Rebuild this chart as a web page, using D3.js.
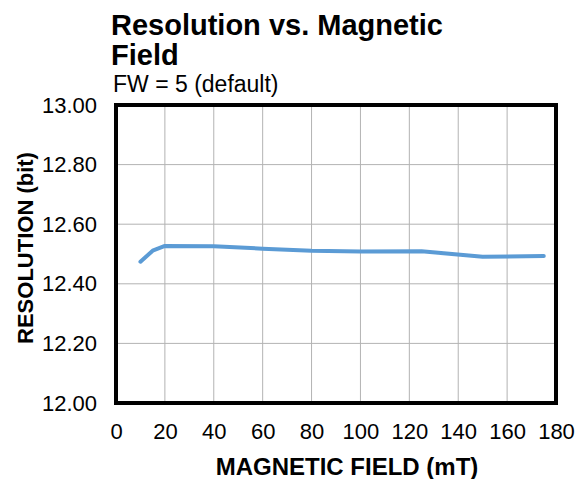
<!DOCTYPE html>
<html><head><meta charset="utf-8">
<script src="https://cdn.jsdelivr.net/npm/d3@7"></script>
<style>body{margin:0;background:#fff}svg{display:block}text{font-family:"Liberation Sans",Arial,sans-serif;fill:#000}</style>
</head><body>
<svg id="c" width="577" height="479"></svg>
<script>
const fieldMT = [10, 15, 20, 40, 60, 80, 100, 125, 150, 175];
const resolutionBit = [12.474, 12.511, 12.527, 12.526, 12.518, 12.511, 12.508, 12.509, 12.491, 12.493];
const xTicks = [0, 20, 40, 60, 80, 100, 120, 140, 160, 180];
const yTicks = [12.0, 12.2, 12.4, 12.6, 12.8, 13.0];
const titleLines = ["Resolution vs. Magnetic", "Field"];
const subtitle = "FW = 5 (default)";
const xTitle = "MAGNETIC FIELD (mT)";
const yTitle = "RESOLUTION (bit)";

const svg = d3.select("#c");
const L = 116, R = 556, T = 105, B = 403;
const x = d3.scaleLinear().domain([0, 180]).range([L, R]);
const y = d3.scaleLinear().domain([12, 13]).range([B, T]);

// grid
svg.append("g").selectAll("line").data(xTicks.slice(1, -1)).join("line")
  .attr("x1", d => x(d)).attr("x2", d => x(d)).attr("y1", T).attr("y2", B)
  .attr("stroke", "#b3b3b3").attr("stroke-width", 1);
svg.append("g").selectAll("line").data(yTicks.slice(1, -1)).join("line")
  .attr("y1", d => y(d)).attr("y2", d => y(d)).attr("x1", L).attr("x2", R)
  .attr("stroke", "#b3b3b3").attr("stroke-width", 1);

const xAxis = svg.append("g").attr("transform", `translate(0,${B})`)
  .call(d3.axisBottom(x).tickValues(xTicks).tickSize(0).tickPadding(20.5).tickFormat(d3.format("d")));
xAxis.select(".domain").remove();
xAxis.selectAll("text").attr("font-size", 22).style("font-family", "Liberation Sans, Arial, sans-serif").attr("fill", "#000");

const yAxis = svg.append("g").attr("transform", `translate(${L},0)`)
  .call(d3.axisLeft(y).tickValues(yTicks).tickSize(0).tickPadding(19).tickFormat(d3.format(".2f")));
yAxis.select(".domain").remove();
yAxis.selectAll("text").attr("font-size", 22).style("font-family", "Liberation Sans, Arial, sans-serif").attr("fill", "#000");

const line = d3.line().x((d, i) => x(fieldMT[i])).y(d => y(d));
svg.append("path").datum(resolutionBit).attr("d", line)
  .attr("fill", "none").attr("stroke", "#5b9bd5").attr("stroke-width", 4)
  .attr("stroke-linejoin", "round").attr("stroke-linecap", "round");

svg.append("rect").attr("x", L).attr("y", T).attr("width", R - L).attr("height", B - T)
  .attr("fill", "none").attr("stroke", "#000").attr("stroke-width", 4);

svg.append("text").attr("x", 111).attr("y", 35).attr("font-size", 29).attr("font-weight", "bold").text(titleLines[0]);
svg.append("text").attr("x", 111).attr("y", 65).attr("font-size", 29).attr("font-weight", "bold").text(titleLines[1]);
svg.append("text").attr("x", 113).attr("y", 92).attr("font-size", 23).text(subtitle);

svg.append("text").attr("x", 347).attr("y", 475).attr("text-anchor", "middle")
  .attr("font-size", 24).attr("font-weight", "bold").text(xTitle);
svg.append("text").attr("transform", `translate(33,248) rotate(-90)`).attr("text-anchor", "middle")
  .attr("font-size", 22).attr("font-weight", "bold").text(yTitle);
</script>
</body></html>
